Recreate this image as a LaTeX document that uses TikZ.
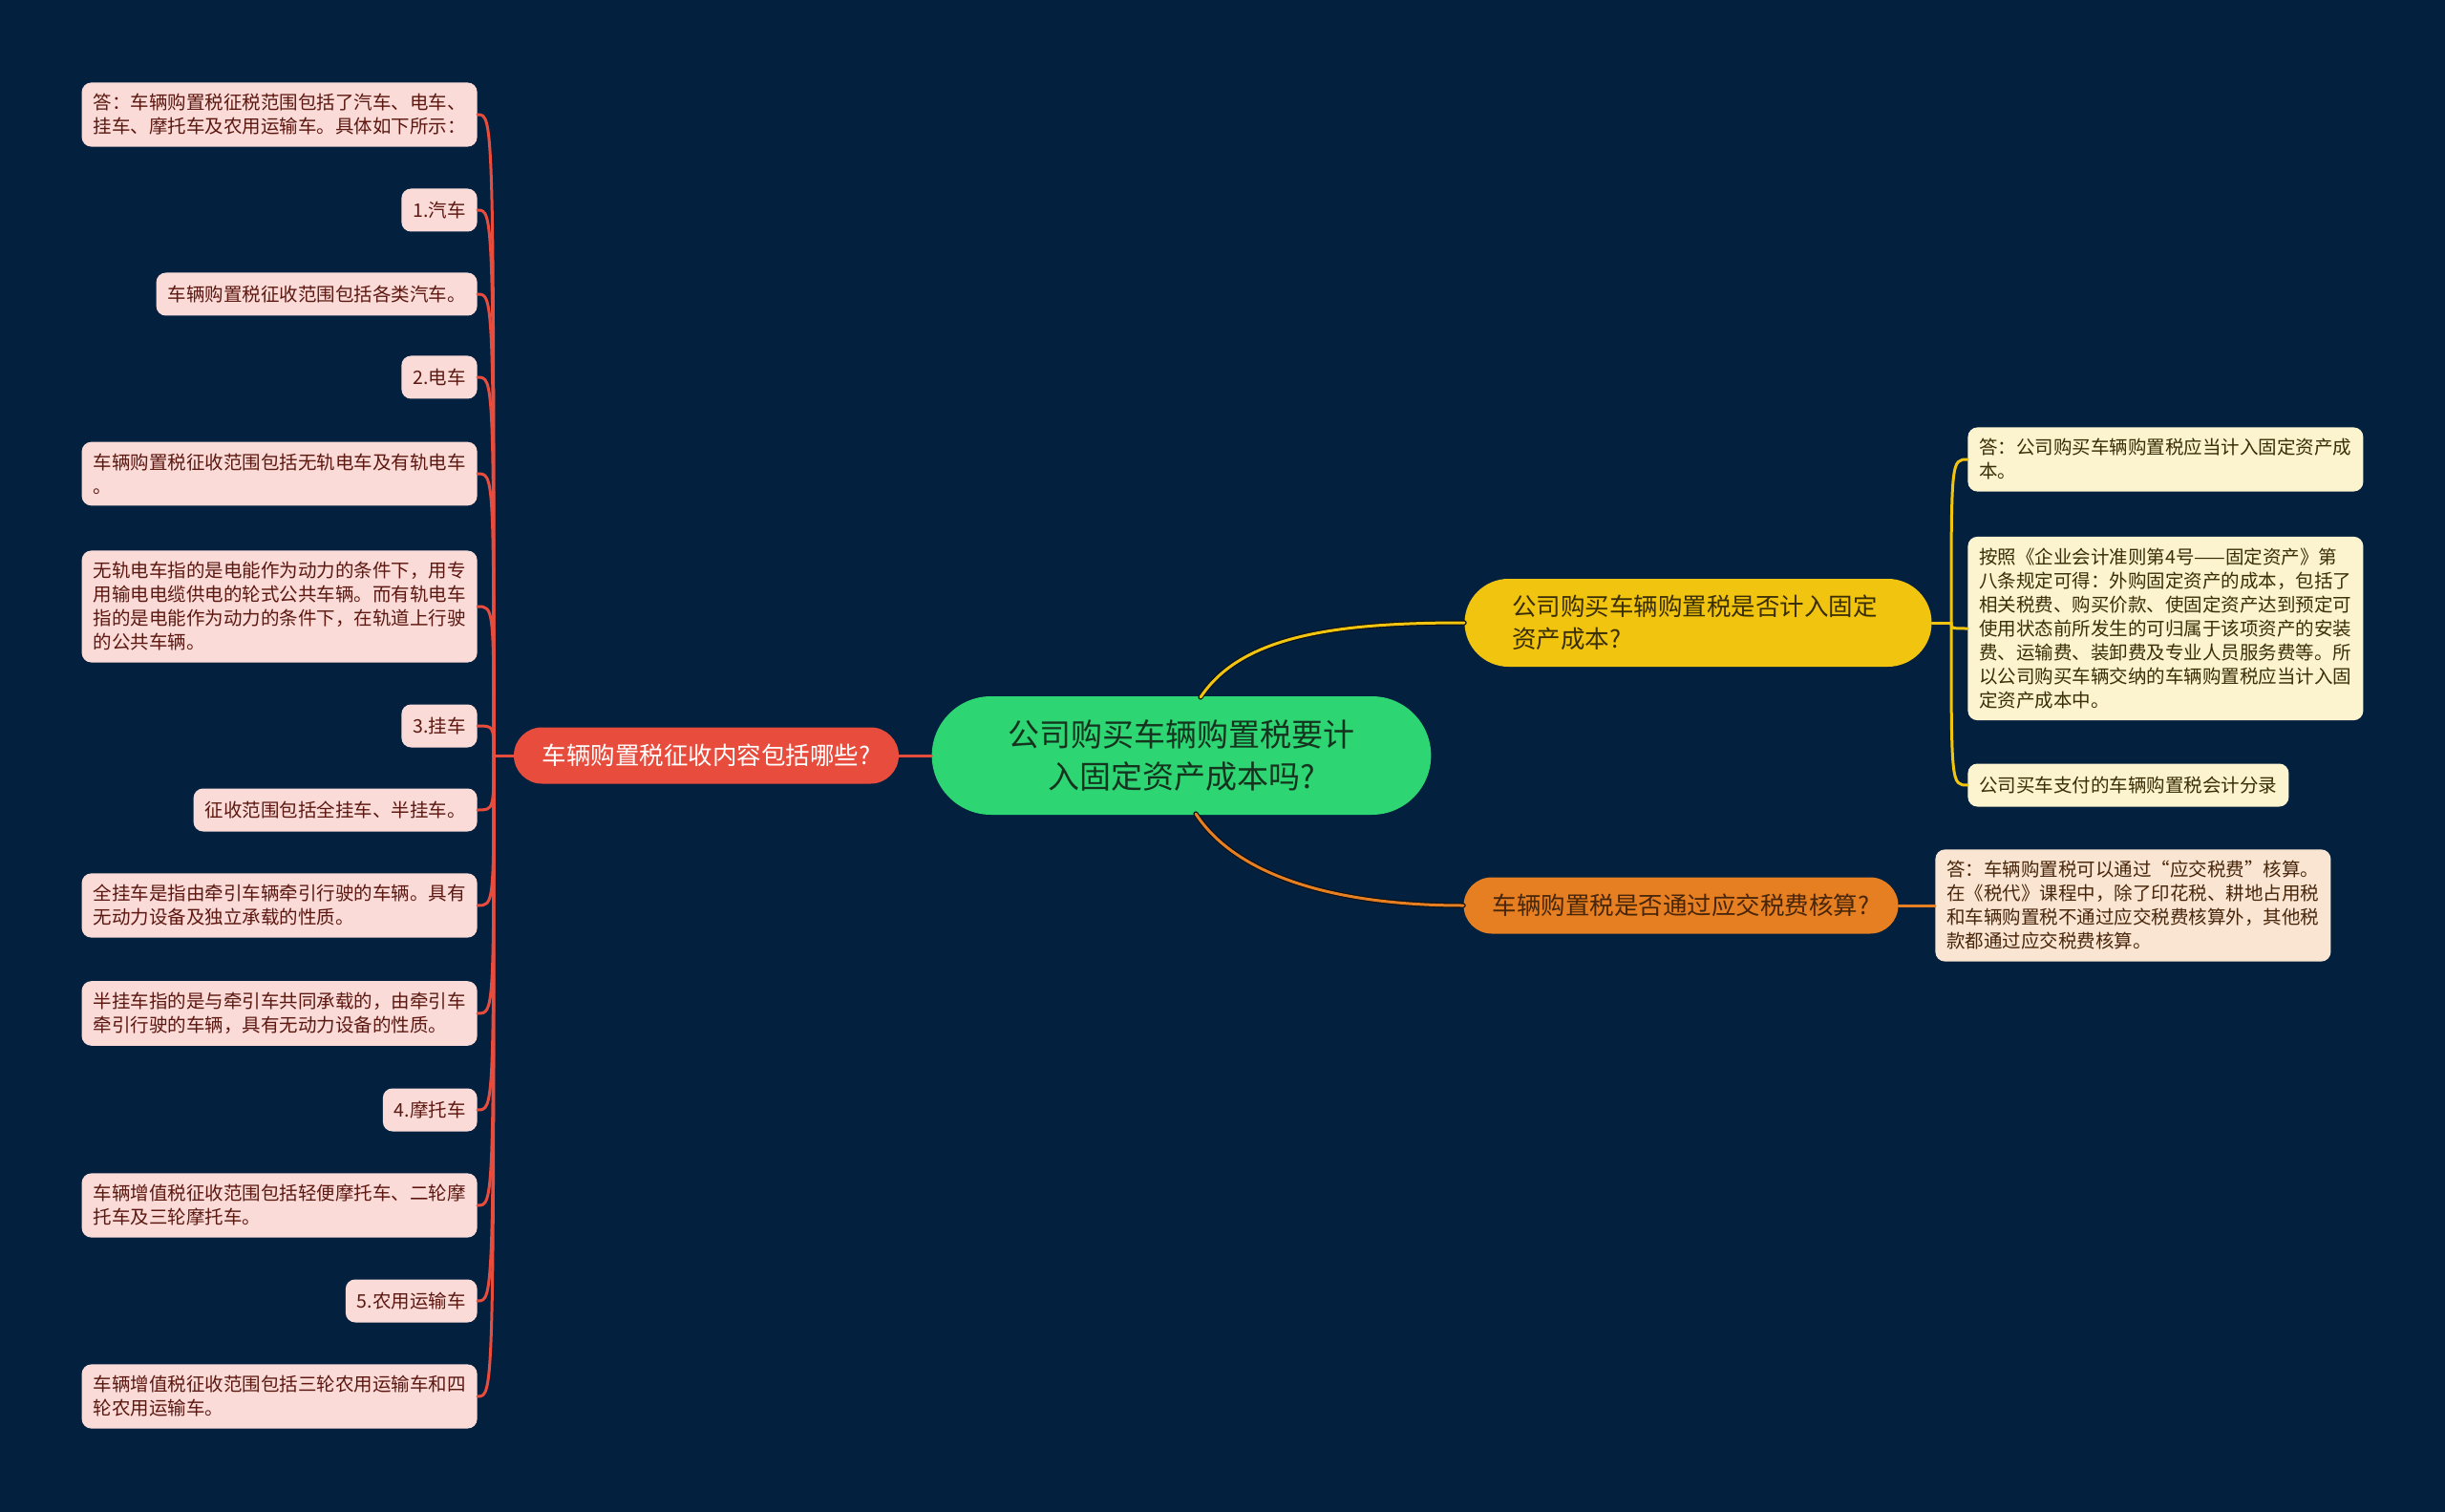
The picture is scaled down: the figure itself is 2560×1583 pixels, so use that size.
\documentclass[tikz,border=0pt]{standalone}
\usepackage{fontspec}
\setmainfont{Noto Sans CJK SC}
\usetikzlibrary{calc,positioning,shapes.misc}
\definecolor{mmbg}{RGB}{3,33,63}
\definecolor{mmgreen}{RGB}{46,213,115}
\definecolor{mmroottext}{RGB}{20,52,30}
\definecolor{mmred}{RGB}{231,76,60}
\definecolor{mmyellow}{RGB}{241,196,15}
\definecolor{mmorange}{RGB}{230,126,34}
\definecolor{mmredleaf}{RGB}{250,219,216}
\definecolor{mmyellowleaf}{RGB}{252,243,207}
\definecolor{mmorangeleaf}{RGB}{250,229,211}
\definecolor{mmredtext}{RGB}{92,24,16}
\definecolor{mmyellowtext}{RGB}{58,46,6}
\definecolor{mmorangetext}{RGB}{72,38,10}
\definecolor{mmshadow}{RGB}{8,14,20}
\tikzset{
  every picture/.append style={line cap=round,line join=round},
  mm root/.style={rounded rectangle,fill=mmgreen,text=mmroottext,minimum width=268pt,minimum height=62pt,align=center,font=\fontsize{16.5}{22}\selectfont},
  mm topic/.style={rounded rectangle,minimum height=29.5pt,inner xsep=0pt,align=left,font=\fontsize{12.75}{17}\selectfont},
  mm leaf/.style={rounded corners=5pt,inner xsep=6pt,inner ysep=6pt,minimum height=22.5pt,align=left,font=\fontsize{9.75}{12.5}\selectfont},
  red leaf/.style={mm leaf,fill=mmredleaf,text=mmredtext,anchor=east},
  yellow leaf/.style={mm leaf,fill=mmyellowleaf,text=mmyellowtext,anchor=west},
  orange leaf/.style={mm leaf,fill=mmorangeleaf,text=mmorangetext,anchor=west},
  red link/.style={mmred,line width=1.5pt},
  yellow link/.style={mmyellow,line width=1.5pt},
  orange link/.style={mmorange,line width=1.5pt},
  shadowed/.style={preaction={draw=mmshadow,line width=2.6pt}}
}
\begin{document}
\begin{tikzpicture}[x=0.5pt,y=-0.5pt]
  \fill[mmbg] (0,0) rectangle (2560,1583);
  \useasboundingbox (0,0) rectangle (2560,1583);

  % root and main topics
  \node[mm root] (root) at (1237,791) {公司购买车辆购置税要计\\入固定资产成本吗?};
  \node[mm topic,fill=mmred,text=white,minimum width=201.5pt] (scope) at (739.5,791) {车辆购置税征收内容包括哪些?};
  \node[mm topic,fill=mmyellow,text=mmyellowtext,minimum width=244.5pt,minimum height=46pt,text width=195pt] (asset) at (1778,652) {公司购买车辆购置税是否计入固定\\资产成本?};
  \node[mm topic,fill=mmorange,text=mmorangetext,minimum width=227.5pt] (account) at (1760,948) {车辆购置税是否通过应交税费核算?};

  % left leaves
  \node[red leaf] (l1) at (500,120) {答：车辆购置税征税范围包括了汽车、电车、\\挂车、摩托车及农用运输车。具体如下所示：};
  \node[red leaf] (l2) at (500,220) {1.汽车};
  \node[red leaf] (l3) at (500,308) {车辆购置税征收范围包括各类汽车。};
  \node[red leaf] (l4) at (500,395) {2.电车};
  \node[red leaf] (l5) at (500,496) {车辆购置税征收范围包括无轨电车及有轨电车\\。};
  \node[red leaf] (l6) at (500,635) {无轨电车指的是电能作为动力的条件下，用专\\用输电电缆供电的轮式公共车辆。而有轨电车\\指的是电能作为动力的条件下，在轨道上行驶\\的公共车辆。};
  \node[red leaf] (l7) at (500,760) {3.挂车};
  \node[red leaf] (l8) at (500,848) {征收范围包括全挂车、半挂车。};
  \node[red leaf] (l9) at (500,948) {全挂车是指由牵引车辆牵引行驶的车辆。具有\\无动力设备及独立承载的性质。};
  \node[red leaf] (l10) at (500,1061) {半挂车指的是与牵引车共同承载的，由牵引车\\牵引行驶的车辆，具有无动力设备的性质。};
  \node[red leaf] (l11) at (500,1162) {4.摩托车};
  \node[red leaf] (l12) at (500,1262) {车辆增值税征收范围包括轻便摩托车、二轮摩\\托车及三轮摩托车。};
  \node[red leaf] (l13) at (500,1362) {5.农用运输车};
  \node[red leaf] (l14) at (500,1462) {车辆增值税征收范围包括三轮农用运输车和四\\轮农用运输车。};

  % right leaves
  \node[yellow leaf] (r1) at (2060,481) {答：公司购买车辆购置税应当计入固定资产成\\本。};
  \node[yellow leaf] (r2) at (2060,658) {按照《企业会计准则第4号——固定资产》第\\八条规定可得：外购固定资产的成本，包括了\\相关税费、购买价款、使固定资产达到预定可\\使用状态前所发生的可归属于该项资产的安装\\费、运输费、装卸费及专业人员服务费等。所\\以公司购买车辆交纳的车辆购置税应当计入固\\定资产成本中。};
  \node[yellow leaf] (r3) at (2060,822) {公司买车支付的车辆购置税会计分录};
  \node[orange leaf] (o1) at (2026,948) {答：车辆购置税可以通过“应交税费”核算。\\在《税代》课程中，除了印花税、耕地占用税\\和车辆购置税不通过应交税费核算外，其他税\\款都通过应交税费核算。};

  % connectors
  \coordinate (lhub) at (517,791);
  \coordinate (rhub) at (2043,652);
  \draw[red link] (root.west) -- (scope.east);
  \draw[red link] (scope.west) -- (lhub);
  \foreach \i in {1,...,14}
    \draw[red link] (lhub) .. controls (lhub |- l\i.east) .. (l\i.east);
  \coordinate (rootup) at (1257,730);
  \coordinate (rootdown) at (1252,852);
  \draw[yellow link,shadowed] (rootup) .. controls (1300,665) and (1400,652) .. (asset.west);
  \draw[orange link,shadowed] (rootdown) .. controls (1295,918) and (1400,948) .. (account.west);
  \draw[yellow link] (asset.east) -- (rhub);
  \foreach \i in {1,2,3}
    \draw[yellow link] (rhub) .. controls (rhub |- r\i.west) .. (r\i.west);
  \draw[orange link] (account.east) -- (o1.west);
\end{tikzpicture}
\end{document}
